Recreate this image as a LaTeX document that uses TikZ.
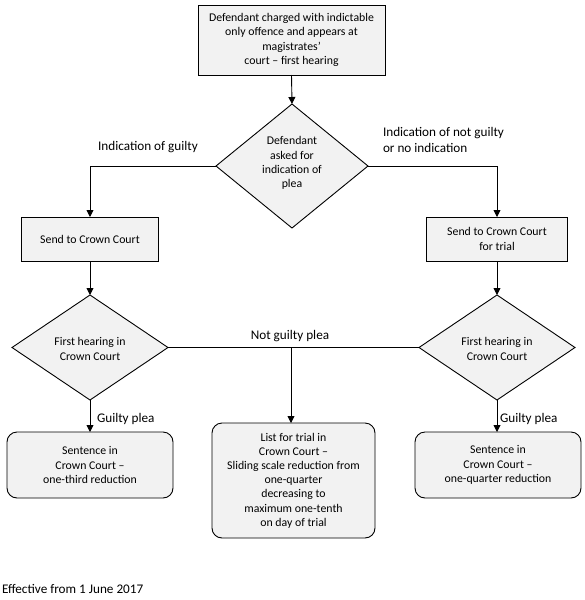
\documentclass[tikz,border=0pt]{standalone}
\usepackage{fontspec}
\setmainfont{Carlito}
\usetikzlibrary{shapes.geometric,arrows.meta}
\definecolor{boxfill}{HTML}{F2F2F2}
\begin{document}
\begin{tikzpicture}[x=1pt,y=-1pt,
  every node/.style={inner sep=0pt,outer sep=0pt},
  boxtext/.style={font=\fontsize{11.8}{14.2}\selectfont,align=center},
  lbl/.style={font=\fontsize{13.2}{16}\selectfont},
  rectbox/.style={draw=black,line width=0.9pt,fill=boxfill,rectangle,boxtext},
  roundbox/.style={rectbox,rounded corners=10pt},
  dia/.style={draw=black,line width=0.9pt,fill=boxfill,diamond},
  conn/.style={draw=black,line width=0.9pt},
  arr/.style={conn,-{Triangle[width=7pt,length=7pt]}}]
\useasboundingbox (0,0) rectangle (585,600);
\fill[white] (0,0) rectangle (585,600);

% top box
\node[rectbox,minimum width=187pt,minimum height=70pt] (top) at (291.5,40)
  {Defendant charged with indictable\\only offence and appears at\\magistrates’\\court – first hearing};

% first diamond
\node[dia,minimum width=152pt,minimum height=124pt] (d1) at (292,166) {};
\node[boxtext] (d1t) at (292,163) {Defendant\\asked for\\indication of\\plea};

% send boxes
\node[rectbox,minimum width=137pt,minimum height=44pt] (b1) at (90,239) {Send to Crown Court};
\node[rectbox,minimum width=141pt,minimum height=44pt] (b2) at (497,239) {Send to Crown Court\\for trial};

% second row diamonds
\node[dia,minimum width=156pt,minimum height=105pt] (d2) at (90,347.5) {};
\node[boxtext] (d2t) at (90,349) {First hearing in\\Crown Court};
\node[dia,minimum width=156pt,minimum height=105pt] (d3) at (497,347.5) {};
\node[boxtext] (d3t) at (497,349) {First hearing in\\Crown Court};

% bottom boxes
\node[roundbox,minimum width=166pt,minimum height=66pt] (s1) at (90,465) {Sentence in\\Crown Court –\\one-third reduction};
\node[roundbox,minimum width=166pt,minimum height=66pt] (s3) at (498,465) {Sentence in\\Crown Court –\\one-quarter reduction};
\node[roundbox,minimum width=163pt,minimum height=115pt] (mid) at (293.5,480.5)
  {List for trial in\\Crown Court –\\Sliding scale reduction from\\one-quarter\\decreasing to\\maximum one-tenth\\on day of trial};

% connectors
\draw[arr] (top.south) -- (d1.north);
\draw[arr] (d1.west) -| (b1.north);
\draw[arr] (d1.east) -| (b2.north);
\draw[arr] (b1.south) -- (d2.north);
\draw[arr] (b2.south) -- (d3.north);
\draw[conn] (d2.east) -- (d3.west);
\coordinate (j) at (291,347.5);
\draw[arr] (j) -- (j |- mid.north);
\draw[arr] (d2.south) -- (s1.north);
\draw[arr] (d3.south) -- (d3.south |- s3.north);

% labels
\node[lbl] (l1) at (148,147) {Indication of guilty};
\node[lbl,anchor=west,align=left] (l2) at (383,140) {Indication of not guilty\\or no indication};
\node[lbl] (l3) at (290,336) {Not guilty plea};
\node[lbl,anchor=west] (l4) at (97,419) {Guilty plea};
\node[lbl,anchor=west] (l5) at (500,419) {Guilty plea};
\node[lbl,anchor=west] (foot) at (2,589) {Effective from 1 June 2017};
\end{tikzpicture}
\end{document}
